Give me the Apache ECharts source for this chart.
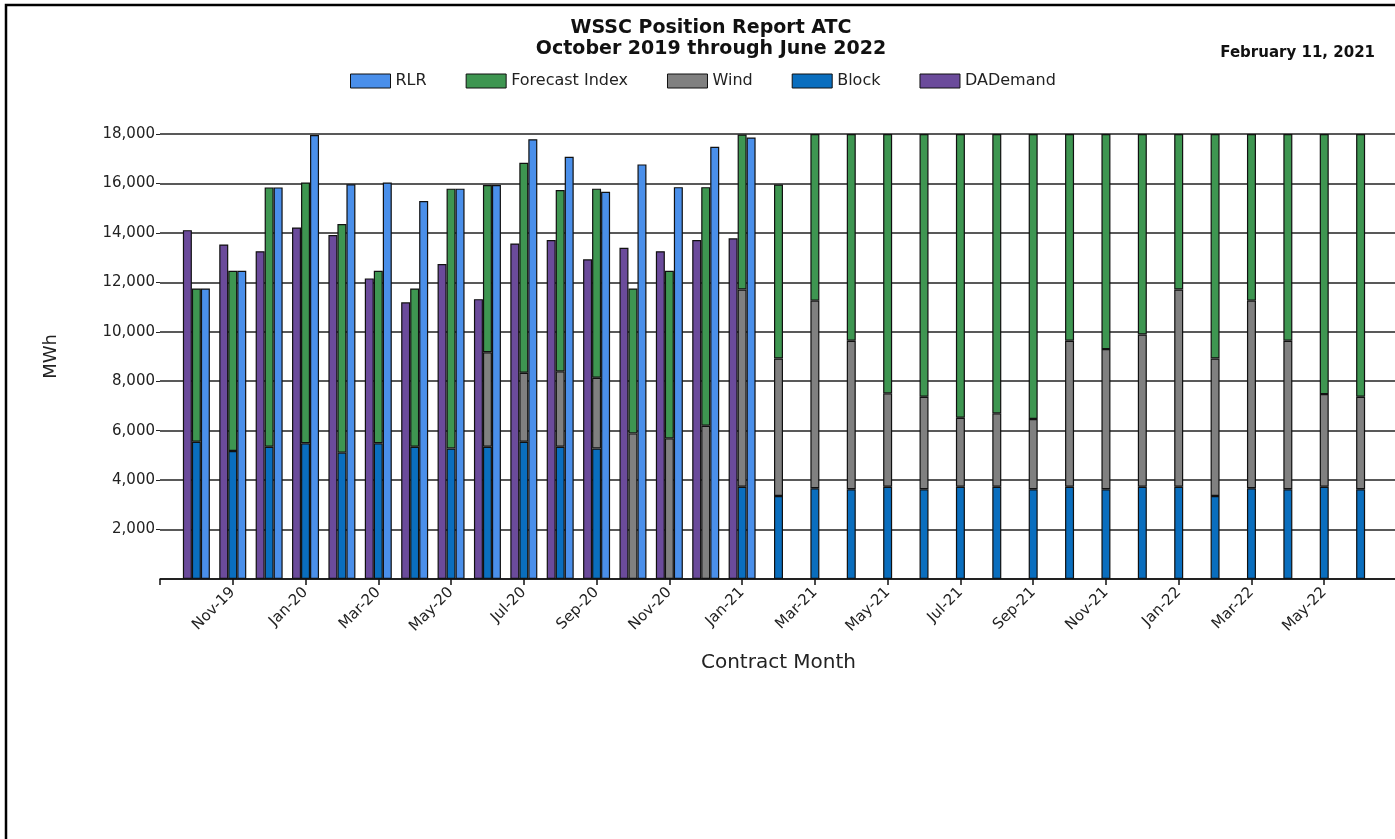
<!DOCTYPE html>
<html>
<head>
<meta charset="utf-8">
<title>WSSC Position Report ATC</title>
<script src="https://cdn.jsdelivr.net/npm/echarts@6/dist/echarts.min.js"></script>
<style>
  html, body { margin: 0; padding: 0; background: #fff; }
  #chart { width: 1395px; height: 839px; }
</style>
</head>
<body>
<div id="chart"></div>
<script>
// contract months; Sep-19 and Jul-22 are empty slots at the two ends of the axis
const months = [
  'Sep-19', 'Oct-19', 'Nov-19', 'Dec-19',
  'Jan-20', 'Feb-20', 'Mar-20', 'Apr-20', 'May-20', 'Jun-20', 'Jul-20', 'Aug-20', 'Sep-20', 'Oct-20', 'Nov-20', 'Dec-20',
  'Jan-21', 'Feb-21', 'Mar-21', 'Apr-21', 'May-21', 'Jun-21', 'Jul-21', 'Aug-21', 'Sep-21', 'Oct-21', 'Nov-21', 'Dec-21',
  'Jan-22', 'Feb-22', 'Mar-22', 'Apr-22', 'May-22', 'Jun-22', 'Jul-22'
]

// MWh per month
const daDemand = [
  null, 14110, 13530, 13260,
  14220, 13910, 12160, 11190, 12740, 11320, 13570, 13710, 12930, 13400, 13260, 13710,
  13780, null, null, null, null, null, null, null, null, null, null, null,
  null, null, null, null, null, null, null
]
const block = [
  null, 5550, 5180, 5350,
  5490, 5110, 5490, 5350, 5280, 5350, 5550, 5350, 5280, null, null, null,
  3730, 3360, 3670, 3630, 3730, 3630, 3730, 3730, 3630, 3730, 3630, 3730,
  3730, 3360, 3670, 3630, 3730, 3630, null
]
const wind = [
  null, null, null, null,
  null, null, null, null, null, 3820, 2790, 3050, 2860, 5890, 5690, 6200,
  7980, 5560, 7590, 6010, 3780, 3740, 2790, 2970, 2840, 5910, 5670, 6160,
  7980, 5560, 7590, 6010, 3750, 3740, null
]
const forecastIndex = [
  null, 6200, 7290, 10490,
  10550, 9250, 6980, 6400, 10510, 6770, 8500, 7330, 7650, 5860, 6780, 9650,
  6270, 7040, 6740, 8360, 10490, 10630, 11480, 11300, 11530, 8360, 8700, 8110,
  6290, 9080, 6740, 8360, 10520, 10630, null
]
const rlr = [
  null, 11750, 12470, 15840,
  17960, 15970, 16040, 15290, 15790, 15940, 17790, 17080, 15660, 16770, 15850, 17480,
  17860, null, null, null, null, null, null, null, null, null, null, null,
  null, null, null, null, null, null, null
]

const legendOrder = ['RLR', 'Forecast Index', 'Wind', 'Block', 'DADemand']

const chart = echarts.init(document.getElementById('chart'))

const barStyle = color => ({ color: color, borderColor: '#111', borderWidth: 1.2 })

chart.setOption({
  animation: false,
  textStyle: { fontFamily: 'DejaVu Sans' },
  graphic: [
    {
      type: 'rect',
      silent: true,
      shape: { x: 6, y: 5, width: 1400, height: 850 },
      style: { fill: 'none', stroke: '#000', lineWidth: 2.5 }
    },
    {
      type: 'text',
      x: 711,
      y: 18,
      style: {
        text: 'WSSC Position Report ATC\nOctober 2019 through June 2022',
        font: 'bold 19px DejaVu Sans',
        fill: '#111',
        align: 'center',
        verticalAlign: 'top',
        lineHeight: 21
      }
    },
    {
      type: 'text',
      x: 1375,
      y: 53,
      style: {
        text: 'February 11, 2021',
        font: 'bold 15px DejaVu Sans',
        fill: '#111',
        align: 'right',
        verticalAlign: 'middle'
      }
    }
  ],
  legend: {
    data: legendOrder,
    left: 345,
    top: 68,
    icon: 'rect',
    itemWidth: 40,
    itemHeight: 14,
    itemGap: 39,
    itemStyle: { borderColor: '#111', borderWidth: 1 },
    textStyle: { fontSize: 16, color: '#222' }
  },
  grid: {
    left: 160,
    right: -2,
    top: 134,
    bottom: 260,
    outerBoundsMode: 'none'
  },
  xAxis: {
    type: 'category',
    data: months,
    boundaryGap: false,
    name: 'Contract Month',
    nameLocation: 'middle',
    nameGap: 74,
    nameTextStyle: { fontSize: 20, color: '#222' },
    axisLine: { lineStyle: { color: '#111', width: 1.5 } },
    axisTick: {
      interval: i => i % 2 === 0,
      length: 6,
      lineStyle: { color: '#111', width: 1.5 }
    },
    axisLabel: {
      interval: i => i % 2 === 0 && i > 0 && i < months.length - 1,
      rotate: 45,
      fontSize: 15,
      color: '#222',
      margin: 11
    },
    splitLine: { show: false }
  },
  yAxis: {
    type: 'value',
    min: 0,
    max: 18000,
    interval: 2000,
    name: 'MWh',
    nameLocation: 'middle',
    nameGap: 100,
    nameTextStyle: { fontSize: 18, color: '#222' },
    axisLine: { show: false },
    axisTick: { show: true, length: 4, lineStyle: { color: '#222' } },
    axisLabel: {
      showMinLabel: false,
      fontSize: 15,
      color: '#222',
      margin: 5,
      formatter: v => v.toLocaleString('en-US')
    },
    splitLine: { lineStyle: { color: '#222', width: 1.6 } }
  },
  series: [
    { name: 'DADemand', type: 'bar', data: daDemand, barWidth: 9, barGap: '0%', itemStyle: barStyle('#6B4B9B') },
    { name: 'Block', type: 'bar', stack: 'position', data: block, barWidth: 9, barGap: '0%', itemStyle: barStyle('#0A6EBE') },
    { name: 'Wind', type: 'bar', stack: 'position', data: wind, barWidth: 9, barGap: '0%', itemStyle: barStyle('#808080') },
    { name: 'Forecast Index', type: 'bar', stack: 'position', data: forecastIndex, barWidth: 9, barGap: '0%', itemStyle: barStyle('#3E9651') },
    { name: 'RLR', type: 'bar', data: rlr, barWidth: 9, barGap: '0%', itemStyle: barStyle('#4A8FEA') }
  ]
})
</script>
</body>
</html>
